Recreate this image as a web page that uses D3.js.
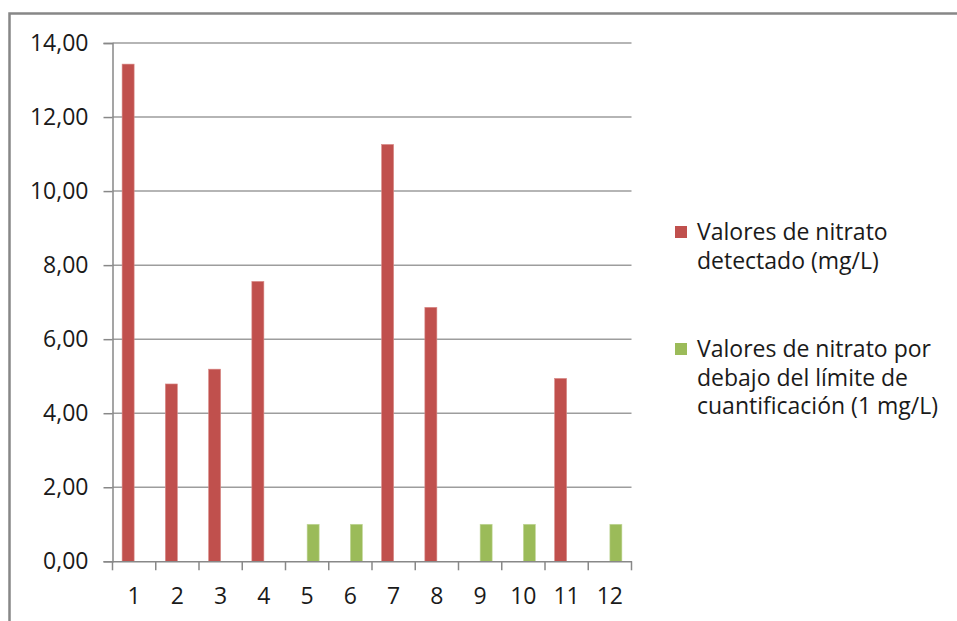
<!DOCTYPE html>
<html>
<head>
<meta charset="utf-8">
<script src="https://cdn.jsdelivr.net/npm/d3@7"></script>
<style>
  body { margin: 0; background: #fff; }
  svg { display: block; font-family: "Open Sans", sans-serif; }
</style>
</head>
<body>
<svg id="chart" width="957" height="621"></svg>
<script>
// muestras 1..12
var categories = ["1","2","3","4","5","6","7","8","9","10","11","12"];
var detectado = [13.43, 4.79, 5.19, 7.56, null, null, 11.26, 6.86, null, null, 4.94, null];
var bajoLimite = [null, null, null, null, 1, 1, null, null, 1, 1, null, 1];
var yTicks = [0, 2, 4, 6, 8, 10, 12, 14];
var seriesNames = [
    ["Valores de nitrato", "detectado (mg/L)"],
    ["Valores de nitrato por", "debajo del límite de", "cuantificación (1 mg/L)"]
];
var colors = ["#C0504D", "#9BBB59"];

var plotLeft = 112.5, plotRight = 631.5, plotTop = 43, plotBottom = 561.3;
var fontSize = 23;

var svg = d3.select("#chart");

// marco exterior
svg.append("rect")
    .attr("x", 9.5).attr("y", 13.5)
    .attr("width", 980).attr("height", 640)
    .attr("fill", "none")
    .attr("stroke", "#878787")
    .attr("stroke-width", 2.5);

var x = d3.scaleBand()
    .domain(categories)
    .range([plotLeft, plotRight]);

var xSub = d3.scaleBand()
    .domain([0, 1])
    .range([0, x.bandwidth()])
    .paddingOuter(0.8);

var y = d3.scaleLinear()
    .domain([0, 14])
    .range([plotBottom, plotTop]);

// grid
svg.append("g")
    .selectAll("line")
    .data(yTicks.filter(function(d) { return d > 0; }))
    .enter()
    .append("line")
    .attr("x1", plotLeft).attr("x2", plotRight)
    .attr("y1", function(d) { return y(d); })
    .attr("y2", function(d) { return y(d); })
    .attr("stroke", "#9d9d9d")
    .attr("stroke-width", 1.5);

// barras
var series = [detectado, bajoLimite];
series.forEach(function(vals, s) {
    svg.append("g")
        .selectAll("rect")
        .data(vals.map(function(v, i) { return {cat: categories[i], v: v}; })
                  .filter(function(d) { return d.v != null; }))
        .enter()
        .append("rect")
        .attr("x", function(d) { return x(d.cat) + xSub(s); })
        .attr("width", xSub.bandwidth())
        .attr("y", function(d) { return y(d.v); })
        .attr("height", function(d) { return plotBottom - y(d.v); })
        .attr("fill", colors[s])
        .attr("stroke", s == 0 ? "#d98a88" : "#c2d79a")
        .attr("stroke-width", 0.6);
});

// eje y
var yAxis = svg.append("g")
    .attr("transform", "translate(" + plotLeft + ",0)")
    .call(d3.axisLeft(y)
        .tickValues(yTicks)
        .tickSize(9)
        .tickPadding(15)
        .tickFormat(function(d) { return d3.format(".2f")(d).replace(".", ","); }));
yAxis.select(".domain").attr("stroke", "#888").attr("stroke-width", 1.5);
yAxis.selectAll(".tick line").attr("stroke", "#888").attr("stroke-width", 1.5);
yAxis.selectAll("text")
    .attr("font-size", fontSize)
    .attr("fill", "#1a1a1a")
    .attr("font-family", "'Open Sans', sans-serif");

// eje x
var xAxis = svg.append("g")
    .attr("transform", "translate(0," + plotBottom + ")")
    .call(d3.axisBottom(x).tickSize(0).tickPadding(26).tickSizeOuter(0));
xAxis.select(".domain").attr("stroke", "#888").attr("stroke-width", 1.5);
xAxis.selectAll("text")
    .attr("font-size", fontSize)
    .attr("fill", "#1a1a1a")
    .attr("font-family", "'Open Sans', sans-serif");

// separadores de categoria en el eje x
svg.append("g")
    .selectAll("line")
    .data(categories.concat(["end"]))
    .enter()
    .append("line")
    .attr("x1", function(d, i) { return plotLeft + i * x.step(); })
    .attr("x2", function(d, i) { return plotLeft + i * x.step(); })
    .attr("y1", plotBottom).attr("y2", plotBottom + 9)
    .attr("stroke", "#888")
    .attr("stroke-width", 1.5);

// leyenda
var legendY = [240, 357];
seriesNames.forEach(function(lines, s) {
    var g = svg.append("g");
    g.append("rect")
        .attr("x", 675).attr("y", legendY[s] - 14)
        .attr("width", 12).attr("height", 12)
        .attr("fill", colors[s]);
    g.append("text")
        .attr("x", 697).attr("y", legendY[s])
        .attr("font-size", fontSize)
        .attr("fill", "#1a1a1a")
        .selectAll("tspan")
        .data(lines)
        .enter()
        .append("tspan")
        .attr("x", 697)
        .attr("dy", function(d, i) { return i == 0 ? 0 : 28.5; })
        .text(function(d) { return d; });
});
</script>
</body>
</html>
